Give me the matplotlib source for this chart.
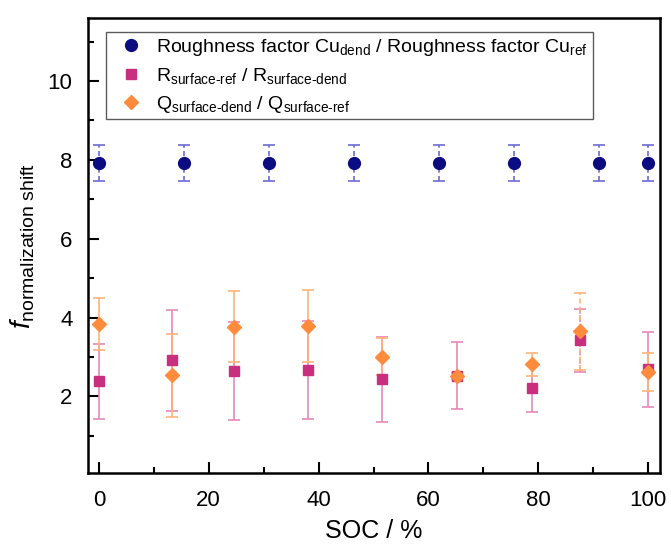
"""Normalization shift factors vs. state of charge."""

import matplotlib

matplotlib.use("Agg")
import matplotlib.pyplot as plt
from matplotlib.ticker import MultipleLocator

plt.rcParams["font.family"] = ["Liberation Sans", "DejaVu Sans"]
plt.rcParams["mathtext.fontset"] = "custom"
plt.rcParams["mathtext.rm"] = "Liberation Sans"
plt.rcParams["mathtext.it"] = "Liberation Sans:italic"

# roughness factor ratio (blue)
soc_rough = [0, 15.5, 31, 46.5, 62, 75.5, 91, 100]
rough = [7.92, 7.92, 7.92, 7.92, 7.92, 7.92, 7.92, 7.92]
rough_err = [0.46, 0.46, 0.46, 0.46, 0.46, 0.46, 0.46, 0.46]

# R and Q ratios share the same SOC points
soc = [0, 13.3, 24.6, 38.1, 51.6, 65.2, 78.8, 87.6, 100]
r_ratio = [2.38, 2.92, 2.65, 2.67, 2.43, 2.52, 2.21, 3.42, 2.69]
r_err = [0.96, 1.28, 1.24, 1.24, 1.07, 0.85, 0.60, 0.80, 0.95]
q_ratio = [3.83, 2.53, 3.77, 3.79, 3.00, 2.52, 2.81, 3.65, 2.62]
q_err = [0.66, 1.06, 0.90, 0.92, 0.47, 0.08, 0.30, 0.97, 0.49]

# which points have dashed error bars
dashed = [False, False, False, False, False, False, False, True, False]

BLUE = "#0b0b82"
BLUE_ERR = "#6b6bd6"
PINK = "#c8307f"
PINK_ERR = "#e58ab9"
ORANGE = "#ff8c3c"
ORANGE_ERR = "#ffb477"


def draw_errors(ax, xs, ys, errs, color, dash_flags):
    for x, y, e, d in zip(xs, ys, errs, dash_flags):
        _, caps, bars = ax.errorbar([x], [y], yerr=[e], fmt="none", ecolor=color,
                                    elinewidth=1.2, capsize=4, capthick=1.2, zorder=2)
        if d:
            for b in bars:
                b.set_linestyle((0, (3, 2)))


fig = plt.figure(figsize=(6.71, 5.47), dpi=100)
ax = fig.add_axes([0.131, 0.135, 0.853, 0.832])

draw_errors(ax, soc_rough, rough, rough_err, BLUE_ERR, [True] * len(soc_rough))
draw_errors(ax, soc, r_ratio, r_err, PINK_ERR, dashed)
draw_errors(ax, soc, q_ratio, q_err, ORANGE_ERR, dashed)

ax.plot(soc_rough, rough, "o", color=BLUE, markersize=8.5, zorder=3,
        label=r"Roughness factor Cu$_{\mathrm{dend}}$ / Roughness factor Cu$_{\mathrm{ref}}$")
ax.plot(soc, r_ratio, "s", color=PINK, markersize=7, zorder=3,
        label="R$_{\\mathrm{surface\u2010ref}}$ / R$_{\\mathrm{surface\u2010dend}}$")
ax.plot(soc, q_ratio, "D", color=ORANGE, markersize=7.5, zorder=4,
        label="Q$_{\\mathrm{surface\u2010dend}}$ / Q$_{\\mathrm{surface\u2010ref}}$")

ax.set_xlim(-2, 102.2)
ax.set_ylim(0.05, 11.6)
ax.xaxis.set_major_locator(MultipleLocator(20))
ax.xaxis.set_minor_locator(MultipleLocator(10))
ax.yaxis.set_major_locator(MultipleLocator(2))
ax.yaxis.set_minor_locator(MultipleLocator(1))
ax.set_yticks([2, 4, 6, 8, 10])
ax.tick_params(which="both", direction="in", top=False, right=False, width=1.5,
               labelsize=16)
ax.tick_params(which="major", length=8)
ax.tick_params(which="minor", length=4)
ax.tick_params(axis="y", pad=11)
ax.tick_params(axis="x", pad=12)
for spine in ax.spines.values():
    spine.set_linewidth(1.8)

ax.set_xlabel("SOC / %", fontsize=18, labelpad=6)
ax.set_ylabel(r"$f_{\mathrm{normalization\ shift}}$", fontsize=20, labelpad=8)

leg = ax.legend(loc="upper left", bbox_to_anchor=(0.031, 0.969), borderaxespad=0,
                fontsize=14, frameon=True, fancybox=False, edgecolor="#333333",
                handletextpad=0.25, handlelength=2.1, labelspacing=0.4,
                borderpad=0.25)
leg.get_frame().set_linewidth(1.0)

fig.savefig("out.png", dpi=100)
